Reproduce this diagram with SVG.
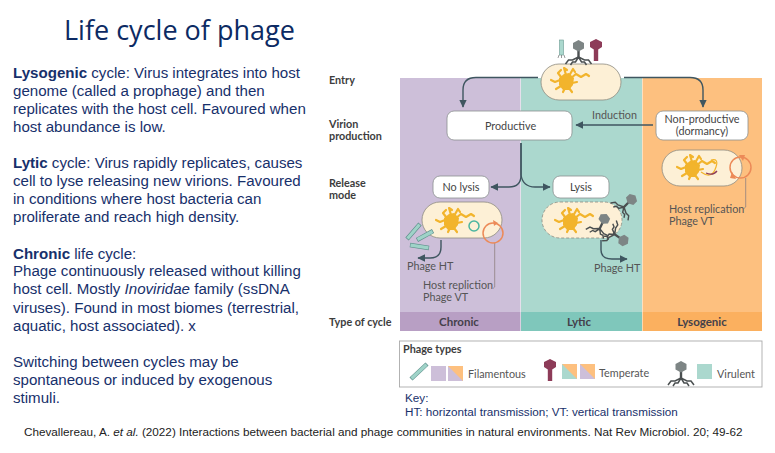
<svg xmlns="http://www.w3.org/2000/svg" width="775" height="453" viewBox="0 0 775 453">
<style>
.title{font:27px "Open Sans",sans-serif;fill:#0c2a63}
.b{font:15.1px "Liberation Sans",Arial,sans-serif;fill:#17306b}
.bb{font-weight:700}
.k{font:11.7px "Liberation Sans",Arial,sans-serif;fill:#17306b}
.c{font:11.73px "Liberation Sans",Arial,sans-serif;fill:#222}
.row{font:700 10.8px Lato,sans-serif;fill:#3d3d3d}
.n{font:10.8px Lato,sans-serif;fill:#444;text-anchor:middle}
.l{font:10.8px Lato,sans-serif;fill:#555}
.ty{font:700 11.5px Lato,sans-serif;fill:#44404a;text-anchor:middle}
.box{fill:#fff;stroke:#8a8f8f;stroke-width:.8}
.cell{fill:#fdf0d6;stroke:#8d8a80;stroke-width:.8}
.wire{fill:none;stroke:#3f5660;stroke-width:1.4}
.thin{fill:none;stroke:#8f7f80;stroke-width:.8}
.ring{fill:none;stroke:#ec8a58;stroke-width:1.5}
.tip{fill:#ec8a58}
.dna{fill:none;stroke:#f2b42c;stroke-width:2.2;stroke-linecap:round;stroke-linejoin:round}
.blob{fill:#f2b42c}
.gray{fill:#7d8585}
.leg{fill:none;stroke:#4a4f50;stroke-width:1.5}
.fil{stroke:#5f8f8c;stroke-width:4.4;stroke-linecap:butt}
.fin{stroke:#9fd3c8;stroke-width:3.2}
</style>
<defs>
<marker id="a" markerWidth="6" markerHeight="6" refX="5" refY="3" orient="auto"><path d="M0 .4L5.500 3L0 5.600z" fill="#3f5660"/></marker>
<g id="d"><path class="blob" d="M-7-3L-2-7L3-8L8-3L7 4L3 9L-3 9L-7 4z"/><path class="dna" d="M-6-1L-11 1L-15-1M-5-4L-8-8L-5-11M0-6L-2-13L1-11M3-5L7-12L9-9M5-3L10-7L15-4L20-7L23-5M6 2L11 1M-5 5L-10 8M-1 7L-3 11M3 7L6 11"/></g>
<g id="v"><path class="leg" d="M0 3L-6 6L-10 6L-13 10M0 3L-3 8L-6 8L-8 11M0 3L3 8L6 8L8 11M0 3L6 6L10 6L13 10"/><rect x="-1.200" y="-4" width="2.400" height="9" fill="#4a4f50"/><path class="gray" d="M0-14L5.500-11V-5.500L0-2.500L-5.500-5.500V-11z"/></g>
<path id="t" d="M0-14L6-11V-6L2.200-3.500V8H-2.200V-3.500L-6-6V-11z" fill="#8d3b58"/>
</defs>
<rect width="775" height="453" fill="#fff"/>
<text class="title" x="64" y="40">Life cycle of phage</text>
<g id="body">
<text class="b" x="13" y="78"><tspan class="bb">Lysogenic</tspan> cycle: Virus integrates into host</text>
<text class="b" x="13" y="96">genome (called a prophage) and then</text>
<text class="b" x="13" y="114">replicates with the host cell. Favoured when</text>
<text class="b" x="13" y="132">host abundance is low.</text>
<text class="b" x="13" y="168"><tspan class="bb">Lytic</tspan> cycle: Virus rapidly replicates, causes</text>
<text class="b" x="13" y="186">cell to lyse releasing new virions. Favoured</text>
<text class="b" x="13" y="204">in conditions where host bacteria can</text>
<text class="b" x="13" y="222">proliferate and reach high density.</text>
<text class="b" x="13" y="259"><tspan class="bb">Chronic</tspan> life cycle:</text>
<text class="b" x="13" y="276">Phage continuously released without killing</text>
<text class="b" x="13" y="294">host cell. Mostly <tspan font-style="italic">Inoviridae</tspan> family (ssDNA</text>
<text class="b" x="13" y="313">viruses). Found in most biomes (terrestrial,</text>
<text class="b" x="13" y="331">aquatic, host associated). x</text>
<text class="b" x="13" y="367">Switching between cycles may be</text>
<text class="b" x="13" y="385">spontaneous or induced by exogenous</text>
<text class="b" x="13" y="403">stimuli.</text>
<text class="c" x="24" y="436">Chevallereau, A. <tspan font-style="italic">et al.</tspan> (2022) Interactions between bacterial and phage communities in natural environments. Nat Rev Microbiol. 20; 49-62</text>
</g>
<g id="panels">
<rect x="400" y="78" width="120.500" height="234" fill="#cdbfd9"/>
<rect x="521" y="78" width="121" height="234" fill="#abd8ce"/>
<rect x="642.500" y="78" width="119.500" height="234" fill="#fdc07f"/>
<rect x="400" y="312" width="120.500" height="19" fill="#b89fc4"/>
<rect x="521" y="312" width="121" height="19" fill="#7fc7bb"/>
<rect x="642.500" y="312" width="119.500" height="19" fill="#fbb05f"/>
<text class="ty" x="459" y="326">Chronic</text>
<text class="ty" x="579" y="326">Lytic</text>
<text class="ty" x="702" y="326">Lysogenic</text>
</g>
<g id="rows">
<text class="row" x="329" y="84">Entry</text>
<text class="row" x="329" y="128">Virion</text>
<text class="row" x="329" y="140">production</text>
<text class="row" x="329" y="187">Release</text>
<text class="row" x="329" y="199">mode</text>
<text class="row" x="329" y="326">Type of cycle</text>
</g>
<g id="connectors">
<path class="wire" marker-end="url(#a)" d="M538 77.500H476Q463 77.500 463 90V107"/>
<path class="wire" marker-end="url(#a)" d="M624 77.500H690Q703 77.500 703 90V107"/>
<path class="wire" marker-end="url(#a)" d="M653 125H576"/>
<path class="wire" marker-end="url(#a)" d="M521 143V175Q521 187 509 187H491"/>
<path class="wire" marker-end="url(#a)" d="M521 143V175Q523 187 535 187H550"/>
<path class="wire" marker-end="url(#a)" d="M441 240V247Q441 258 430 258H418"/>
<path class="wire" marker-end="url(#a)" d="M601 240V250Q601 259 612 259H627"/>
<path class="thin" d="M745.700 178V207L744 208.500"/>
<path class="thin" d="M494.700 243V287L493 288.500"/>
</g>
<g id="entry-cell">
<rect class="cell" x="541" y="64" width="80" height="36" rx="18"/>
<use href="#d" x="566" y="81"/>
<rect x="559.500" y="40" width="4" height="15" fill="#abd8ce" stroke="#6a9a92" stroke-width=".6"/>
<path d="M559 55L558 58M561.500 55V58M564 55L565 58" stroke="#555" stroke-width=".6" fill="none"/>
<use href="#v" x="578.500" y="54"/>
<use href="#t" x="596" y="53"/>
</g>
<g id="productive"><rect class="box" x="447" y="111" width="125" height="29" rx="7"/><text class="n" x="510.500" y="130">Productive</text></g>
<text class="l" x="592" y="119">Induction</text>
<g id="non-productive"><rect class="box" x="656" y="111" width="92" height="29" rx="7"/><text class="n" x="702" y="123">Non-productive</text><text class="n" x="702" y="135">(dormancy)</text></g>
<g id="lysogenic-cell">
<rect class="cell" x="662" y="150" width="80" height="36" rx="18"/>
<use href="#d" x="692" y="168"/>
<path d="M701 172Q712 180 716 167Q719 158 711 160" fill="none" stroke="#f2b42c" stroke-width="1.200"/>
<path d="M706 173Q713 176 717 171" fill="none" stroke="#8d3b58" stroke-width="1.300"/>
<circle class="ring" cx="740.500" cy="167.500" r="10.500"/>
<path class="tip" d="M745 155L739 155L743 161zM736 179L732 172L730 178z"/>
</g>
<g id="no-lysis"><rect class="box" x="433" y="176" width="56" height="22" rx="7"/><text class="n" x="461" y="191">No lysis</text></g>
<g id="lysis"><rect class="box" x="553" y="176" width="56" height="22" rx="7"/><text class="n" x="581" y="191">Lysis</text></g>
<g id="chronic-cell">
<rect class="cell" x="422" y="202" width="80" height="36" rx="18"/>
<use href="#d" x="451" y="221"/>
<circle cx="474" cy="226" r="5" fill="none" stroke="#4bb5a0" stroke-width="1.500"/>
<circle class="ring" cx="493" cy="233" r="10"/>
<path class="tip" d="M498 223L493 220L494 226z"/>
<path class="fil" d="M407 239L420 224M417 240L433 231M410 245L429 248"/>
<path class="fin" d="M407.500 238.500L419.500 224.500M417.500 239.500L432.500 231.500M410.500 245.100L428.500 247.900"/>
<text class="l" x="407" y="270">Phage HT</text>
<text class="l" x="423" y="289">Host repliction</text>
<text class="l" x="423" y="301">Phage VT</text>
</g>
<g id="lytic-cell">
<rect class="cell" stroke-dasharray="3 2" x="542" y="202" width="80" height="36" rx="18"/>
<use href="#d" x="570" y="221"/>
<use href="#v" transform="translate(601 226) rotate(25) scale(.95)"/>
<use href="#v" transform="translate(626 205) rotate(45) scale(.95)"/>
<use href="#v" transform="translate(617 236) rotate(125) scale(.95)"/>
<text class="l" x="594" y="272">Phage HT</text>
</g>
<g id="lysogenic-text">
<text class="l" x="669" y="213">Host replication</text>
<text class="l" x="669" y="225">Phage VT</text>
</g>
<g id="legend">
<rect x="399.500" y="341" width="362.500" height="46" fill="#fff" stroke="#aaa" stroke-width=".9"/>
<text class="row" x="403" y="353">Phage types</text>
<path class="fil" d="M411 379L427 364"/><path class="fin" d="M411.500 378.500L426.500 364.500"/>
<rect x="431" y="366" width="15" height="15" fill="#cdbfd9"/>
<rect x="448" y="366" width="15" height="15" fill="#cdbfd9"/><path d="M448 366H463V381z" fill="#fdc07f"/>
<text class="l" x="468" y="378">Filamentous</text>
<use href="#t" x="550" y="373"/>
<rect x="562" y="364" width="15" height="15" fill="#fdc07f"/><path d="M562 364L577 379H562z" fill="#abd8ce"/>
<rect x="580" y="364" width="15" height="15" fill="#cdbfd9"/><path d="M580 364H595V379z" fill="#fdc07f"/>
<text class="l" x="599" y="377">Temperate</text>
<use href="#v" x="681" y="375"/>
<rect x="697" y="364" width="15" height="15" fill="#abd8ce"/>
<text class="l" x="717" y="378">Virulent</text>
</g>
<g id="key">
<text class="k" x="405" y="402">Key:</text>
<text class="k" x="405" y="416">HT: horizontal transmission; VT: vertical transmission</text>
</g>
</svg>
